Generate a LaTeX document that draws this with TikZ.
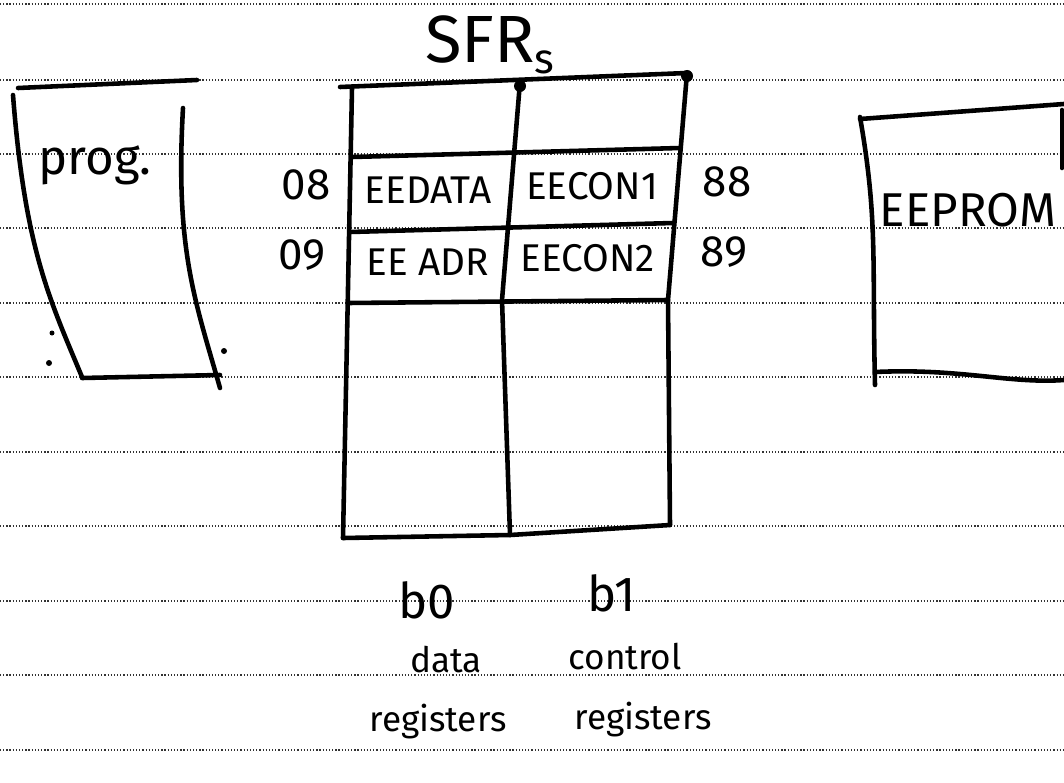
\documentclass[tikz,border=0pt]{standalone}
\usepackage{fontspec}
\setmainfont{Fira Sans}
\usepackage{tikz}
\usetikzlibrary{calc}

\begin{document}
\begin{tikzpicture}[x=0.2mm,y=-0.2mm,
    ink/.style={line width=2.6pt,line cap=round,line join=round},
    rule/.style={line width=0.8pt,black!80,dash pattern=on 0.7pt off 1.1pt},
    hand/.style={inner sep=0pt,font=\fontsize{22}{26}\selectfont},
    num/.style={inner sep=0pt,font=\fontsize{25}{28}\selectfont},
    note/.style={inner sep=0pt,font=\fontsize{20}{24}\selectfont}]
  \useasboundingbox (0,0) rectangle (1064,782);
  % ruled paper
  \foreach \y in {4,80,154,228,303,377,452,526,601,675,750}
    \draw[rule] (0,\y) -- (1064,\y);
  % program memory page
  \draw[ink] (18,88) -- (197,80);
  \draw[ink] (13,95) .. controls (25,250) and (50,300) .. (82,377);
  \draw[ink] (183,108) .. controls (175,250) and (195,300) .. (220,388);
  \draw[ink] (82,378) -- (220,375);
  \fill (52,333) circle (2.5) (49,363) circle (3) (224,351) circle (3);
  \node[hand,font=\fontsize{28}{30}\selectfont] (prog) at (95,165) {prog.};
  % SFR banks
  \draw[ink] (340,87) -- (687,73);
  \draw[ink] (352,88) -- (343,538);
  \draw[ink] (520,82) -- (502,300) -- (510,535);
  \draw[ink] (687,73) -- (668,300) -- (670,525);
  \draw[ink] (352,157) -- (680,148);
  \draw[ink] (350,232) -- (673,223);
  \draw[ink] (348,303) -- (668,300);
  \draw[ink] (343,538) -- (510,535) -- (670,525);
  \fill (520,86) circle (6) (687,76) circle (6);
  \node[hand,font=\fontsize{38}{40}\selectfont] (sfrs) at (490,45)
    {SFR\raisebox{-0.3ex}{\fontsize{24}{26}\selectfont s}};
  \node[hand] (eedata) at (428,190) {EEDATA};
  \node[hand] (eecon1) at (592,186) {EECON1};
  \node[hand] (eeadr) at (428,262) {EE ADR};
  \node[hand] (eecon2) at (588,258) {EECON2};
  \node[num] (a08) at (306,185) {08};
  \node[num] (a09) at (302,255) {09};
  \node[num] (a88) at (727,182) {88};
  \node[num] (a89) at (724,252) {89};
  \node[num,font=\fontsize{28}{30}\selectfont] (b0) at (427,600) {b0};
  \node[num,font=\fontsize{28}{30}\selectfont] (b1) at (612,593) {b1};
  \node[note] (data) at (446,660) {data};
  \node[note] (ctrl) at (625,657) {control};
  \node[note] (regA) at (438,722) {registers};
  \node[note] (regB) at (643,720) {registers};
  % data EEPROM
  \draw[ink] (860,119) -- (1064,104);
  \draw[ink] (860,117) .. controls (878,220) and (872,260) .. (875,385);
  \draw[ink] (875,372) .. controls (960,368) and (1010,384) .. (1064,380);
  \draw[ink] (1062,110) -- (1062,168);
  \node[hand,font=\fontsize{27}{30}\selectfont] (eeprom) at (968,210) {EEPROM};
\end{tikzpicture}
\end{document}
